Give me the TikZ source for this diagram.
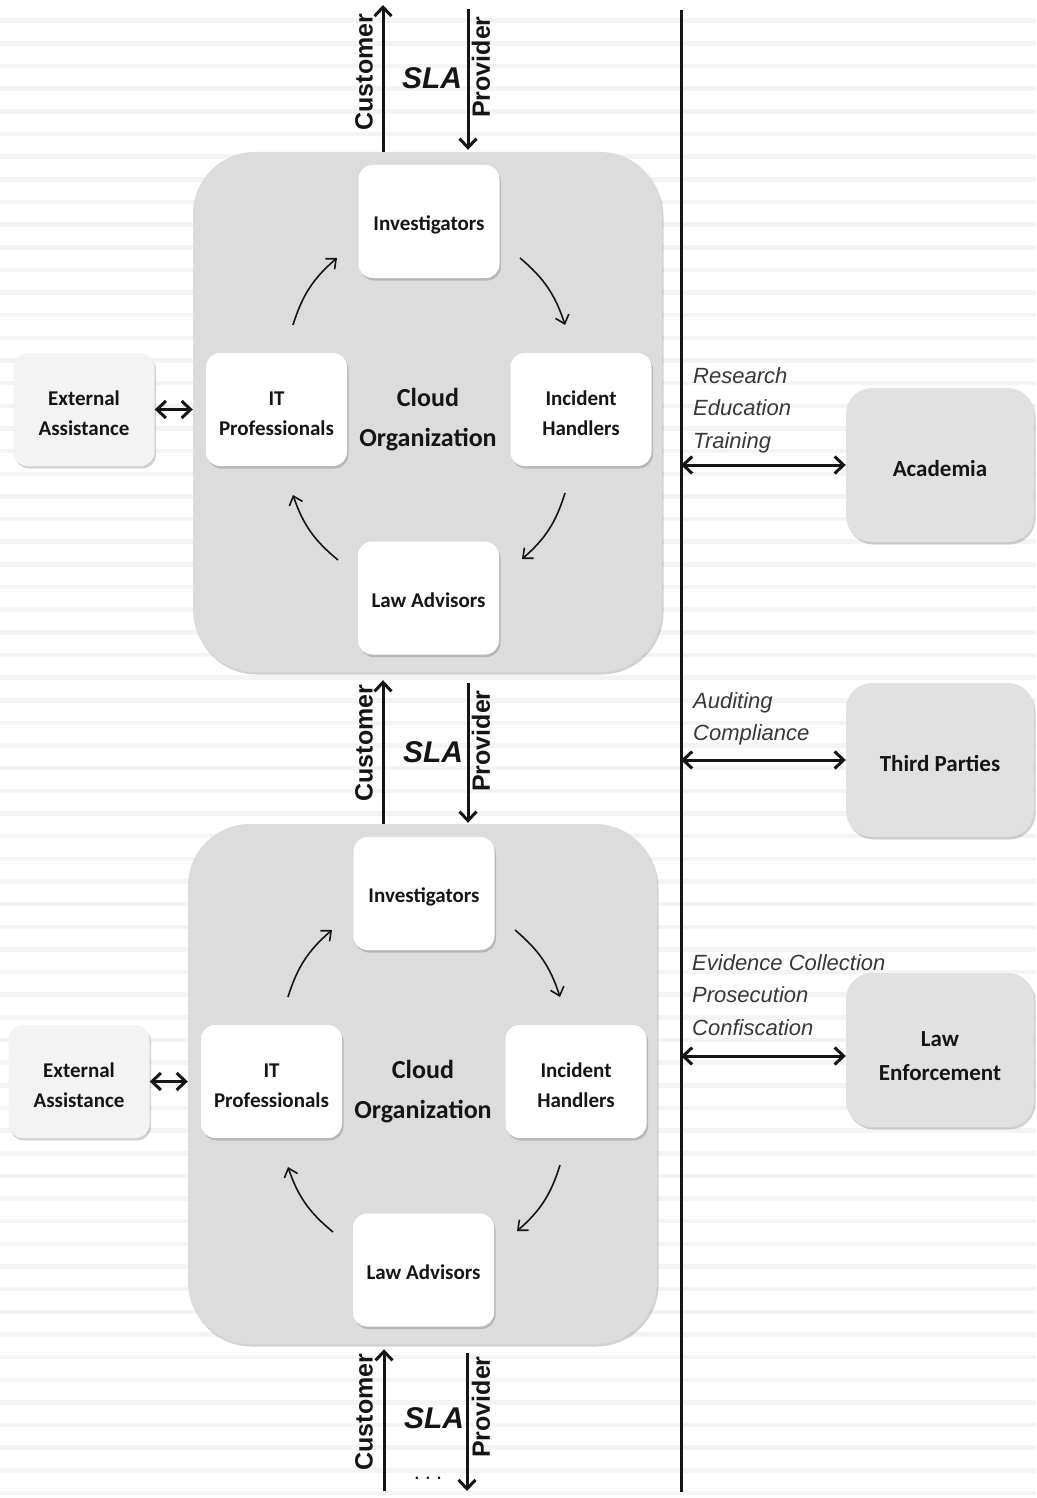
\documentclass[tikz,border=0pt]{standalone}
\usepackage{fontspec}
\newfontfamily\calf{Carlito}
\newfontfamily\arf{Liberation Sans}
\usetikzlibrary{arrows.meta,shadows}
\definecolor{contgray}{HTML}{DCDCDC}
\definecolor{boxgray}{HTML}{E1E1E1}
\definecolor{extgray}{HTML}{F3F3F3}
\definecolor{stripegray}{HTML}{F4F4F4}
\definecolor{ink}{HTML}{151515}
\newcommand\tstrut[1]{\rule{0pt}{#1}}
\begin{document}
\begin{tikzpicture}[x=1pt,y=-1pt,
  shad/.style={drop shadow={opacity=0.25, shadow xshift=1.5pt, shadow yshift=-2.5pt, fill=black!70}},
  cont/.style={fill=contgray, rounded corners=62pt, minimum width=469pt, minimum height=520pt, inner sep=0pt, shad},
  role/.style={fill=white, rounded corners=14pt, minimum width=141pt, minimum height=113pt, inner sep=0pt, align=center, font=\calf\bfseries\fontsize{21}{30}\selectfont, text=ink, shad},
  ext/.style={role, fill=extgray},
  party/.style={fill=boxgray, rounded corners=26pt, minimum width=188pt, minimum height=154pt, inner sep=0pt, align=center, font=\calf\bfseries\fontsize{23}{34}\selectfont, text=ink, shad},
  org/.style={align=center, inner sep=0pt, font=\calf\bfseries\fontsize{26}{40}\selectfont, text=ink},
  lbl/.style={align=left, anchor=west, inner sep=0pt, font=\arf\itshape\fontsize{22}{32.5}\selectfont, text=ink!85},
  sidetxt/.style={rotate=90, inner sep=0pt, font=\arf\bfseries\fontsize{25}{25}\selectfont, text=ink},
  slatxt/.style={inner sep=0pt, font=\arf\bfseries\itshape\fontsize{30}{30}\selectfont, text=ink},
  bigarrow/.style={line width=3pt, draw=ink, -{Straight Barb[length=9pt,width=17pt]}},
  dbl/.style={line width=3pt, draw=ink, {Straight Barb[length=9pt,width=17pt]}-{Straight Barb[length=9pt,width=17pt]}},
  cyc/.style={line width=1.6pt, draw=ink, -{Straight Barb[length=8pt,width=14pt]}, bend left=16}
]
\useasboundingbox (0,0) rectangle (1036,1498);
\fill[white] (0,0) rectangle (1036,1498);
\foreach \k in {0,...,66}
  \fill[stripegray] (0,{18.5+22.65*\k}) rectangle (1036,{23+22.65*\k});

% two cloud organizations
\foreach \g/\dx/\dy in {1/0/0,2/-5/672}{
  \begin{scope}[shift={(\dx,\dy)}]
    \node[cont] (cont\g) at (427.5,412) {};
    \node[role] (inv\g) at (429,221.5) {\tstrut{22pt}Investigators};
    \node[role] (it\g) at (276.5,409.5) {\tstrut{22pt}IT\\Professionals};
    \node[role] (ih\g) at (581,409.5) {\tstrut{22pt}Incident\\Handlers};
    \node[role] (la\g) at (428.5,598) {\tstrut{20pt}Law Advisors};
    \node[ext] (ext\g) at (84,409.5) {\tstrut{22pt}External\\Assistance};
    \node[org] (org\g) at (428,419.5) {Cloud\\Organization};
    \coordinate (c\g-a) at (293,325);
    \coordinate (c\g-b) at (337,258);
    \coordinate (c\g-c) at (520,258);
    \coordinate (c\g-d) at (565,325);
    \coordinate (c\g-e) at (565,493);
    \coordinate (c\g-f) at (522,559);
    \coordinate (c\g-g) at (338,560);
    \coordinate (c\g-h) at (293,495);
    \draw[cyc] (c\g-a) to (c\g-b);
    \draw[cyc] (c\g-c) to (c\g-d);
    \draw[cyc] (c\g-e) to (c\g-f);
    \draw[cyc] (c\g-g) to (c\g-h);
    \draw[dbl] (ext\g.east) -- (ext\g.east -| cont\g.west);
  \end{scope}
}

% SLA connectors
\coordinate (cust0) at (383,5);
\coordinate (prov0) at (468,9);
\draw[bigarrow] (cont1.north -| cust0) -- (cust0);
\draw[bigarrow, shorten >=2pt] (prov0) -- (prov0 |- cont1.north);
\draw[bigarrow, shorten >=8pt] (cont2.north -| cust0) -- (cust0 |- cont1.south);
\draw[bigarrow, shorten <=11pt, shorten >=1pt] (prov0 |- cont1.south) -- (prov0 |- cont2.north);
\coordinate (custE) at (384,1491);
\coordinate (provE) at (467,1491);
\draw[bigarrow, shorten >=5pt] (custE) -- (custE |- cont2.south);
\draw[bigarrow, shorten <=9pt] (provE |- cont2.south) -- (provE);

\node[sidetxt] (cu1) at (364,72) {Customer};
\node[slatxt] (sla1) at (432,78) {SLA};
\node[sidetxt] (pr1) at (481,67) {Provider};
\node[sidetxt] (cu2) at (364,743) {Customer};
\node[slatxt] (sla2) at (433,752) {SLA};
\node[sidetxt] (pr2) at (481,741) {Provider};
\node[sidetxt] (cu3) at (364,1412) {Customer};
\node[slatxt] (sla3) at (434,1418) {SLA};
\node[sidetxt] (pr3) at (481,1407) {Provider};
\node[inner sep=0pt, font=\arf\fontsize{22}{22}\selectfont, text=ink] (dots) at (428,1478) {.\hspace{5pt}.\hspace{5pt}.};

% divider and outside parties
\coordinate (vt) at (681,10);
\coordinate (vb) at (681,1492);
\draw[line width=3pt, draw=ink] (vt) -- (vb);
\node[party] (aca) at (940,465) {\tstrut{23pt}Academia};
\node[party] (tp) at (940,760) {\tstrut{23pt}Third Parties};
\node[party] (le) at (940,1050) {\tstrut{27pt}Law\\Enforcement};
\coordinate (leA) at ([yshift=-6pt]le.west);
\draw[dbl] (vt |- aca.west) -- (aca.west);
\draw[dbl] (vt |- tp.west) -- (tp.west);
\draw[dbl] (vt |- leA) -- (leA);
\node[lbl] (l1) at (693,410) {Research\\Education\\Training};
\node[lbl] (l2) at (693,719) {Auditing\\Compliance};
\node[lbl] (l3) at (692,995) {Evidence Collection\\Prosecution\\Confiscation};
\end{tikzpicture}
\end{document}
